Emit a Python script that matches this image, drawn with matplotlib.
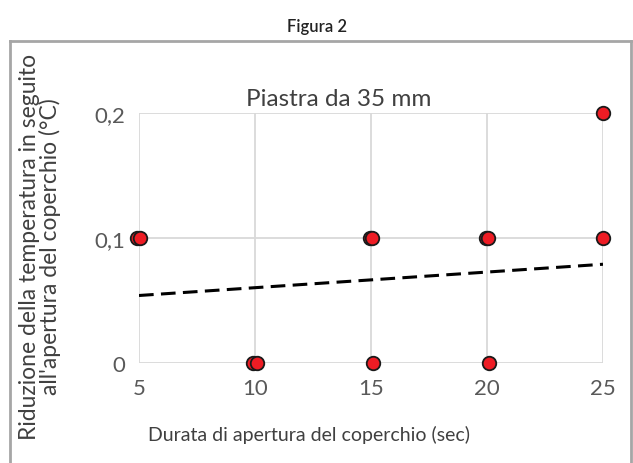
import matplotlib
matplotlib.use("Agg")
import matplotlib.pyplot as plt

# Data
x_pts = [4.9, 5.05, 9.9, 10.1, 14.95, 15.05, 15.1, 19.95, 20.05, 20.1, 25.0, 25.0]
y_pts = [0.1, 0.1, 0.0, 0.0, 0.1, 0.1, 0.0, 0.1, 0.1, 0.0, 0.2, 0.1]
trend_x = [5, 25]
trend_y = [0.054, 0.079]
x_ticks = [5, 10, 15, 20, 25]
y_ticks = [0, 0.1, 0.2]
y_ticklabels = ["0", "0,1", "0,2"]

plt.rcParams['font.family'] = ['Lato', 'DejaVu Sans']

W, H = 633, 464
fig = plt.figure(figsize=(W / 100, H / 100), dpi=100)

# outer frame (left, top, right)
fc = '#a6a6a6'
fig.add_artist(plt.Line2D([10 / W, 10 / W], [0, 1 - 42 / H], transform=fig.transFigure, color=fc, lw=2))
fig.add_artist(plt.Line2D([10 / W, 631 / W], [1 - 42 / H, 1 - 42 / H], transform=fig.transFigure, color=fc, lw=2))
fig.add_artist(plt.Line2D([631 / W, 631 / W], [0, 1 - 42 / H], transform=fig.transFigure, color=fc, lw=2))

fig.text(317 / W, 1 - 27 / H, "Figura 2", ha='center', va='center', fontsize=12, fontweight='semibold', color='#222222')

left, right, top, bottom = 139, 603, 114, 364
ax = fig.add_axes([left / W, 1 - bottom / H, (right - left) / W, (bottom - top) / H])
ax.set_xlim(5, 25)
ax.set_ylim(0, 0.2)
for s in ax.spines.values():
    s.set_visible(False)
ax.set_xticks(x_ticks)
ax.set_yticks(y_ticks)
ax.set_yticklabels(y_ticklabels)
ax.tick_params(length=0, labelsize=16, labelcolor='#595959', pad=10)
ax.tick_params(axis='x', pad=11)
ax.grid(True, color='#d9d9d9', lw=1.3)
ax.set_axisbelow(True)

ax.plot(trend_x, trend_y, ls=(0, (4.8, 2.4)), color='black', lw=2.2, zorder=2)
ax.scatter(x_pts, y_pts, s=95, facecolor='#ee1c24', edgecolor='#1a1a1a', linewidths=1.3, zorder=3, clip_on=False)

fig.text(339 / W, 1 - 99 / H, "Piastra da 35 mm", ha='center', va='center', fontsize=17.5, color='#404040')
fig.text(309 / W, 1 - 435 / H, "Durata di apertura del coperchio (sec)", ha='center', va='center', fontsize=14, color='#404040')
fig.text(40 / W, 1 - 247 / H, "Riduzione della temperatura in seguito\nall'apertura del coperchio (°C)", ha='center', va='center',
         rotation=90, fontsize=16.5, color='#404040', linespacing=0.95)

fig.savefig("out.png", dpi=100)
